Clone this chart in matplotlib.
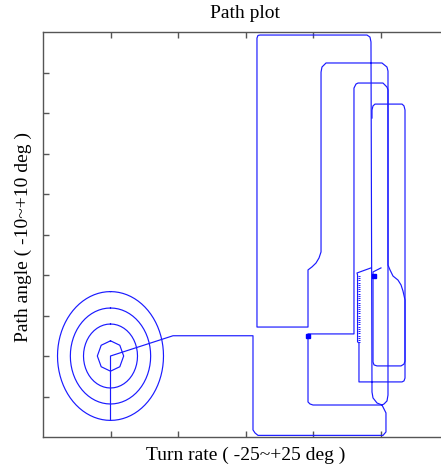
import numpy as np
import matplotlib
matplotlib.use("Agg")
import matplotlib.pyplot as plt

# ---- data (turn rate in deg, path angle in deg) ----
ring_center = (-20.0, -6.0)
ring_rx = [1.95, 4.0, 5.95, 7.85]
ring_ry = [0.75, 1.58, 2.37, 3.18]
ring_vertices = [8, 48, 64, 80]

# lead-in from the calibration rings, around the bottom, up through loops A and B
lead_turn = [-20.0, -20.0, -18.15, -10.74, 1.11, 1.11, 1.41, 1.85, 20.37, 20.81, 20.81, 20.22,
             19.48, 18.89, 18.74, 18.59, 18.44, 18.0, 2.15, 1.85, 1.70, 1.70, 9.26, 9.26,
             9.85, 10.44, 10.89, 11.19, 11.19, 11.19, 11.33, 11.93, 20.22, 20.96, 21.11, 21.11,
             21.41, 21.85, 22.59, 23.04, 23.33, 23.63, 23.63, 23.48, 23.19, 16.81, 16.81, 16.6,
             16.6, 16.52, 18.59]
lead_angle = [-9.18, -6.0, -5.8, -5.0, -5.0, -9.65, -9.80, -9.92, -9.92, -9.75, -8.81, -8.42,
              -8.32, -8.07, -7.78, 9.51, 9.75, 9.85, 9.85, 9.83, 9.70, -4.57, -4.57, -1.75,
              -1.60, -1.41, -1.16, -0.86, -0.62, 8.02, 8.27, 8.47, 8.47, 8.27, 8.07, -1.51,
              -1.75, -2.05, -2.25, -2.49, -2.79, -3.23, -7.09, -7.23, -7.28, -7.28, -5.36, -5.30,
              -2.0, -1.90, -1.65]

# loop C: up the right arm, across the top, back down to the marker and along the bottom
loop_c_turn = [20.22, 20.52, 20.96, 21.11, 21.11, 20.96, 20.37, 16.67, 16.37, 16.07, 16.07,
               9.26, 9.26, 9.56, 10.0, 20.22]
loop_c_angle = [-8.42, -8.37, -8.22, -7.93, 7.14, 7.28, 7.48, 7.48, 7.43, 7.23, -4.91,
                -4.91, -8.27, -8.37, -8.42, -8.42]

# loop D
loop_d_turn = [20.07, 18.89, 18.89, 19.04, 19.48, 23.04, 23.48, 23.63, 23.63, 23.48, 23.19,
               19.19, 18.89, 18.74, 18.74]
loop_d_angle = [-1.65, -1.85, -6.30, -6.44, -6.49, -6.49, -6.40, -6.25, 6.15, 6.35, 6.44,
                6.44, 6.35, 6.15, 5.75]

# jitter ticks along the stalled segment
comb_turn = (16.6, 16.95)
comb_angle = [-2.05, -2.16, -2.27, -2.38, -2.49, -2.60, -2.70, -2.81, -2.92, -3.03, -3.14,
              -3.25, -3.36, -3.47, -3.57, -3.68, -3.79, -3.90, -4.01, -4.12, -4.23, -4.34,
              -4.44, -4.55, -4.66, -4.77, -4.88, -4.99, -5.10, -5.21, -5.31]

# markers
mark_turn = [9.26, 19.04]
mark_angle = [-5.01, -2.05]

x_ticks = [-20, -10, 0, 10, 20]
y_ticks = [-8, -6, -4, -2, 0, 2, 4, 6, 8]

# ---- figure ----
plt.rcParams['font.family'] = ['Liberation Serif', 'DejaVu Serif']
line_color = '#1a1aff'
lw = 0.85

fig = plt.figure(figsize=(4.41, 4.74), dpi=100)
ax = fig.add_axes([43 / 441, 37 / 474, 405 / 441, 405 / 474])

for rx, ry, n in zip(ring_rx, ring_ry, ring_vertices):
    t = np.linspace(0, 2 * np.pi, n + 1)
    ax.plot(ring_center[0] + rx * np.sin(t), ring_center[1] + ry * np.cos(t),
            color=line_color, lw=lw)

ax.plot(lead_turn, lead_angle, color=line_color, lw=lw)
ax.plot(loop_c_turn, loop_c_angle, color=line_color, lw=lw)
ax.plot(loop_d_turn, loop_d_angle, color=line_color, lw=lw)
ax.hlines(comb_angle, comb_turn[0], comb_turn[1], color=line_color, lw=0.7)
ax.plot(mark_turn, mark_angle, 's', color='#0000ff', ms=3, mec='#0000ff')

ax.set_xlim(-30, 30)
ax.set_ylim(-10, 10)
ax.set_xticks(x_ticks)
ax.set_yticks(y_ticks)
ax.set_xticklabels([])
ax.set_yticklabels([])
ax.tick_params(direction='in', length=4, width=1, color='#555555',
               top=True, right=True, bottom=True, left=True)
for s in ax.spines.values():
    s.set_color('#555555')
    s.set_linewidth(1)

ax.set_title('Path plot', fontsize=14, pad=10)
ax.set_xlabel('Turn rate ( -25~+25 deg )', fontsize=14, va='top')
ax.xaxis.set_label_coords(0.5, -0.025)
ax.set_ylabel('Path angle ( -10~+10 deg )', fontsize=14, va='center')
ax.yaxis.set_label_coords(-0.049, 0.493)

fig.savefig('out.png', dpi=100)
